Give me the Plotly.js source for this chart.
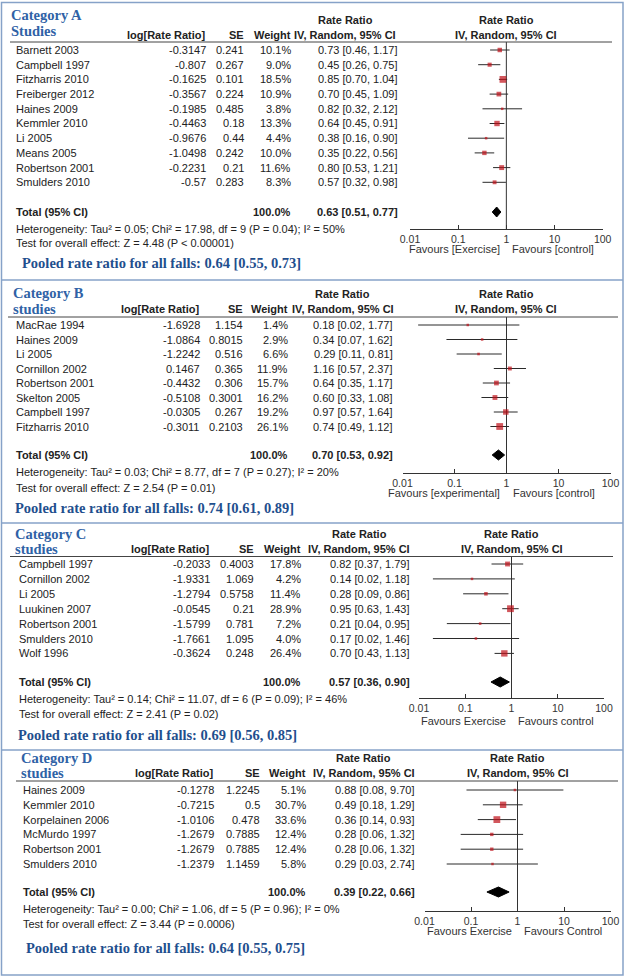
<!DOCTYPE html>
<html>
<head>
<meta charset="utf-8">
<script src="https://cdn.plot.ly/plotly-3.0.1.min.js"></script>
<style>html,body{margin:0;padding:0;background:#fff}#chart{width:630px;height:980px}</style>
</head>
<body>
<div id="chart"></div>
<script>
// ---------- DATA ----------
// Category A
const studiesA = ['Barnett 2003','Campbell 1997','Fitzharris 2010','Freiberger 2012','Haines 2009','Kemmler 2010','Li 2005','Means 2005','Robertson 2001','Smulders 2010'];
const logA = [-0.3147,-0.807,-0.1625,-0.3567,-0.1985,-0.4463,-0.9676,-1.0498,-0.2231,-0.57];
const seA = [0.241,0.267,0.101,0.224,0.485,0.18,0.44,0.242,0.21,0.283];
const weightA = [10.1,9.0,18.5,10.9,3.8,13.3,4.4,10.0,11.6,8.3];
const rrA = [0.73,0.45,0.85,0.70,0.82,0.64,0.38,0.35,0.80,0.57];
const loA = [0.46,0.26,0.70,0.45,0.32,0.45,0.16,0.22,0.53,0.32];
const hiA = [1.17,0.75,1.04,1.09,2.12,0.91,0.90,0.56,1.21,0.98];
const totalA = [0.63,0.51,0.77];
const hetA = 'Heterogeneity: Tau² = 0.05; Chi² = 17.98, df = 9 (P = 0.04); I² = 50%';
const testA = 'Test for overall effect: Z = 4.48 (P < 0.00001)';
const pooledA = [0.64,0.55,0.73];

// Category B
const studiesB = ['MacRae 1994','Haines 2009','Li 2005','Cornillon 2002','Robertson 2001','Skelton 2005','Campbell 1997','Fitzharris 2010'];
const logB = [-1.6928,-1.0864,-1.2242,0.1467,-0.4432,-0.5108,-0.0305,-0.3011];
const seB = [1.154,0.8015,0.516,0.365,0.306,0.3001,0.267,0.2103];
const weightB = [1.4,2.9,6.6,11.9,15.7,16.2,19.2,26.1];
const rrB = [0.18,0.34,0.29,1.16,0.64,0.60,0.97,0.74];
const loB = [0.02,0.07,0.11,0.57,0.35,0.33,0.57,0.49];
const hiB = [1.77,1.62,0.81,2.37,1.17,1.08,1.64,1.12];
const totalB = [0.70,0.53,0.92];
const hetB = 'Heterogeneity: Tau² = 0.03; Chi² = 8.77, df = 7 (P = 0.27); I² = 20%';
const testB = 'Test for overall effect: Z = 2.54 (P = 0.01)';
const pooledB = [0.74,0.61,0.89];

// Category C
const studiesC = ['Campbell 1997','Cornillon 2002','Li 2005','Luukinen 2007','Robertson 2001','Smulders 2010','Wolf 1996'];
const logC = [-0.2033,-1.9331,-1.2794,-0.0545,-1.5799,-1.7661,-0.3624];
const seC = [0.4003,1.069,0.5758,0.21,0.781,1.095,0.248];
const weightC = [17.8,4.2,11.4,28.9,7.2,4.0,26.4];
const rrC = [0.82,0.14,0.28,0.95,0.21,0.17,0.70];
const loC = [0.37,0.02,0.09,0.63,0.04,0.02,0.43];
const hiC = [1.79,1.18,0.86,1.43,0.95,1.46,1.13];
const totalC = [0.57,0.36,0.90];
const hetC = 'Heterogeneity: Tau² = 0.14; Chi² = 11.07, df = 6 (P = 0.09); I² = 46%';
const testC = 'Test for overall effect: Z = 2.41 (P = 0.02)';
const pooledC = [0.69,0.56,0.85];

// Category D
const studiesD = ['Haines 2009','Kemmler 2010','Korpelainen 2006','McMurdo 1997','Robertson 2001','Smulders 2010'];
const logD = [-0.1278,-0.7215,-1.0106,-1.2679,-1.2679,-1.2379];
const seD = [1.2245,0.5,0.478,0.7885,0.7885,1.1459];
const weightD = [5.1,30.7,33.6,12.4,12.4,5.8];
const rrD = [0.88,0.49,0.36,0.28,0.28,0.29];
const loD = [0.08,0.18,0.14,0.06,0.06,0.03];
const hiD = [9.70,1.29,0.93,1.32,1.32,2.74];
const totalD = [0.39,0.22,0.66];
const hetD = 'Heterogeneity: Tau² = 0.00; Chi² = 1.06, df = 5 (P = 0.96); I² = 0%';
const testD = 'Test for overall effect: Z = 3.44 (P = 0.0006)';
const pooledD = [0.64,0.55,0.75];

const tickVals = [0.01,0.1,1,10,100];
const tickText = ['0.01','0.1','1','10','100'];

// ---------- LAYOUT (pixel positions) ----------
const W = 630, H = 980;
const px = x => x / W;
const py = y => 1 - y / H;

const panels = [
  {title:'Category A', sub:'Studies', studies:studiesA, logrr:logA, se:seA, w:weightA, rr:rrA, lo:loA, hi:hiA, total:totalA, het:hetA, test:testA, pooled:pooledA,
   favL:'Favours [Exercise]', favR:'Favours [control]',
   g:{rowTop:50, step:14.7, hdr:42, axis:229, totalY:212, xd:[410,602.7], cat:[10,15,31], hy:[20,34.5], name:15, log:207, se:245, w:292, ci:399, rrc:345, het:[15,229], test:[15,243], pooled:[21,263], fav:249, line:[10,612]}},
  {title:'Category B', sub:'studies', studies:studiesB, logrr:logB, se:seB, w:weightB, rr:rrB, lo:loB, hi:hiB, total:totalB, het:hetB, test:testB, pooled:pooledB,
   favL:'Favours [experimental]', favR:'Favours [control]',
   g:{rowTop:325, step:14.5, hdr:317, axis:473, totalY:455, xd:[402.5,610.5], cat:[12,293,309], hy:[294,309.5], name:15, log:201, se:243.5, w:289, ci:394, rrc:343, het:[15,472], test:[15,488], pooled:[14,508], fav:493, line:[8,618]}},
  {title:'Category C', sub:'studies', studies:studiesC, logrr:logC, se:seC, w:weightC, rr:rrC, lo:loC, hi:hiC, total:totalC, het:hetC, test:testC, pooled:pooledC,
   favL:'Favours Exercise', favR:'Favours control',
   g:{rowTop:564, step:14.9, hdr:556.5, axis:698, totalY:682, xd:[419,604], cat:[14,534,549.3], hy:[534,549.3], name:18, log:211, se:255, w:302, ci:411, rrc:359, het:[18,699], test:[18,714], pooled:[17,735], fav:721, line:[10,613]}},
  {title:'Category D', sub:'studies', studies:studiesD, logrr:logD, se:seD, w:weightD, rr:rrD, lo:loD, hi:hiD, total:totalD, het:hetD, test:testD, pooled:pooledD,
   favL:'Favours Exercise', favR:'Favours Control',
   g:{rowTop:790, step:14.8, hdr:781, axis:911, totalY:892, xd:[424.5,610.5], cat:[20,758.3,773.3], hy:[758.3,773.3], name:22, log:215, se:260.5, w:306.5, ci:416, rrc:364, het:[22,909], test:[22,924], pooled:[25,948], fav:931, line:[16,618]}}
];

const SANS = 'Liberation Sans, Arial, sans-serif';
const SERIF = 'Liberation Serif, Times New Roman, serif';
const TXT = '#222';
const BLUE = '#2f62a6';
const BLUE2 = '#1f4f8e';
const BORDER = '#86a2c8';
const fmt2 = v => v.toFixed(2);
const ciStr = (e,l,h) => fmt2(e) + ' [' + fmt2(l) + ', ' + fmt2(h) + ']';

const traces = [];
const annotations = [];
const shapes = [];
const layout = {
  width: W, height: H,
  margin: {l:0, r:0, t:0, b:0},
  paper_bgcolor: '#fff', plot_bgcolor: 'rgba(0,0,0,0)',
  showlegend: false,
  annotations, shapes
};

function ann(text, x, y, opts) {
  annotations.push(Object.assign({
    text, x, y, xref:'paper', yref:'paper', showarrow:false,
    xanchor:'left', yanchor:'middle', borderpad:0,
    font:{family:SANS, size:11, color:TXT}
  }, opts || {}));
}

panels.forEach((p, i) => {
  const s = i === 0 ? '' : String(i + 1);
  const xa = 'x' + s, ya = 'y' + s;
  const g = p.g;
  const yBot = (g.axis - g.rowTop) / g.step;
  const yTop = (g.hdr - g.rowTop) / g.step;
  const tY = (g.totalY - g.rowTop) / g.step;
  const idx = p.studies.map((_, j) => j);
  const wmax = Math.max.apply(null, p.w);

  layout['xaxis' + s] = {
    type:'log', range:[-2, 2], domain:[px(g.xd[0]), px(g.xd[1])], anchor: ya,
    tickvals: tickVals, ticktext: tickText, ticks:'inside', ticklen:4, tickwidth:1, tickcolor:'#333',
    showline:true, linecolor:'#333', linewidth:1, showgrid:false, zeroline:false,
    tickfont:{family:SANS, size:10.5, color:'#333'}, fixedrange:true
  };
  layout['yaxis' + s] = {
    range:[yBot, yTop], domain:[py(g.axis), py(g.hdr)], anchor: xa,
    visible:false, showgrid:false, zeroline:false, fixedrange:true
  };

  // line of no effect
  traces.push({x:[1,1], y:[yTop, yBot], mode:'lines', line:{color:'#333', width:1},
    xaxis:xa, yaxis:ya, hoverinfo:'skip', cliponaxis:false});

  // study estimates with CI
  traces.push({
    x: p.rr, y: idx, mode:'markers', xaxis:xa, yaxis:ya, cliponaxis:false,
    marker:{symbol:'square', color:'#bf1018', size: p.w.map(w => Math.max(2.5, 6.8 * Math.pow(w / wmax, 0.7))), line:{width:0}},
    error_x:{type:'data', symmetric:false,
      array: p.hi.map((h, j) => h - p.rr[j]),
      arrayminus: p.lo.map((l, j) => p.rr[j] - l),
      color:'#2a2a2a', thickness:1, width:0},
    hoverinfo:'skip'
  });

  // pooled diamond
  const hh = 5 / g.step;
  const [te, tl, th] = p.total;
  traces.push({
    x:[tl, te, th, te, tl], y:[tY, tY - hh, tY, tY + hh, tY],
    mode:'lines', fill:'toself', fillcolor:'#000', line:{color:'#000', width:1},
    xaxis:xa, yaxis:ya, hoverinfo:'skip', cliponaxis:false
  });

  // header line
  shapes.push({type:'line', xref:'paper', yref:'paper', x0:px(g.line[0]), x1:px(g.line[1]), y0:py(g.hdr), y1:py(g.hdr), line:{color:'#444', width:1}});

  // titles
  ann('<b>' + p.title + '</b>', px(g.cat[0]), py(g.cat[1]), {font:{family:SERIF, size:14.5, color:BLUE}});
  ann('<b>' + p.sub + '</b>', px(g.cat[0]), py(g.cat[2]), {font:{family:SERIF, size:14.5, color:BLUE}});

  // column headers
  const hb = {font:{family:SANS, size:11, color:TXT}};
  ann('<b>log[Rate Ratio]</b>', px(g.log), py(g.hy[1]), Object.assign({xanchor:'right'}, hb));
  ann('<b>SE</b>', px(g.se), py(g.hy[1]), Object.assign({xanchor:'right'}, hb));
  ann('<b>Weight</b>', px(g.w), py(g.hy[1]), Object.assign({xanchor:'right'}, hb));
  ann('<b>Rate Ratio</b>', px(g.rrc), py(g.hy[0]), Object.assign({xanchor:'center'}, hb));
  ann('<b>IV, Random, 95% CI</b>', px(g.rrc), py(g.hy[1]), Object.assign({xanchor:'center'}, hb));
  ann('<b>Rate Ratio</b>', 0, py(g.hy[0]), Object.assign({xanchor:'center', xref:xa}, hb));
  ann('<b>IV, Random, 95% CI</b>', 0, py(g.hy[1]), Object.assign({xanchor:'center', xref:xa}, hb));

  // study rows
  p.studies.forEach((st, j) => {
    ann(st, px(g.name), j, {yref:ya});
    ann(String(p.logrr[j]), px(g.log), j, {yref:ya, xanchor:'right'});
    ann(String(p.se[j]), px(g.se), j, {yref:ya, xanchor:'right'});
    ann(p.w[j].toFixed(1) + '%', px(g.w), j, {yref:ya, xanchor:'right'});
    ann(ciStr(p.rr[j], p.lo[j], p.hi[j]), px(g.ci), j, {yref:ya, xanchor:'right'});
  });

  // total row
  const totW = p.w.reduce((a, b) => a + b, 0);
  ann('<b>Total (95% CI)</b>', px(g.name), tY, {yref:ya});
  ann('<b>' + Math.round(totW).toFixed(1) + '%</b>', px(g.w), tY, {yref:ya, xanchor:'right'});
  ann('<b>' + ciStr(te, tl, th) + '</b>', px(g.ci), tY, {yref:ya, xanchor:'right'});

  // heterogeneity & test
  ann(p.het, px(g.het[0]), py(g.het[1]));
  ann(p.test, px(g.test[0]), py(g.test[1]));

  // favours
  ann(p.favL, 0, py(g.fav), {xref:xa, xanchor:'right', xshift:-5, font:{family:SANS, size:11, color:'#333'}});
  ann(p.favR, 0, py(g.fav), {xref:xa, xanchor:'left', xshift:5, font:{family:SANS, size:11, color:'#333'}});

  // pooled rate ratio for all falls
  ann('<b>Pooled rate ratio for all falls: ' + ciStr(p.pooled[0], p.pooled[1], p.pooled[2]) + '</b>',
      px(g.pooled[0]), py(g.pooled[1]), {font:{family:SERIF, size:14.5, color:BLUE2}});
});

// panel borders
shapes.push({type:'rect', xref:'paper', yref:'paper', x0:px(1.5), x1:px(623), y0:py(975), y1:py(2.5), line:{color:BORDER, width:1.5}});
[280, 523, 750].forEach(y => shapes.push({type:'line', xref:'paper', yref:'paper', x0:px(1.5), x1:px(623), y0:py(y), y1:py(y), line:{color:BORDER, width:1.5}}));

Plotly.newPlot('chart', traces, layout, {staticPlot:true, displayModeBar:false});
</script>
</body>
</html>
